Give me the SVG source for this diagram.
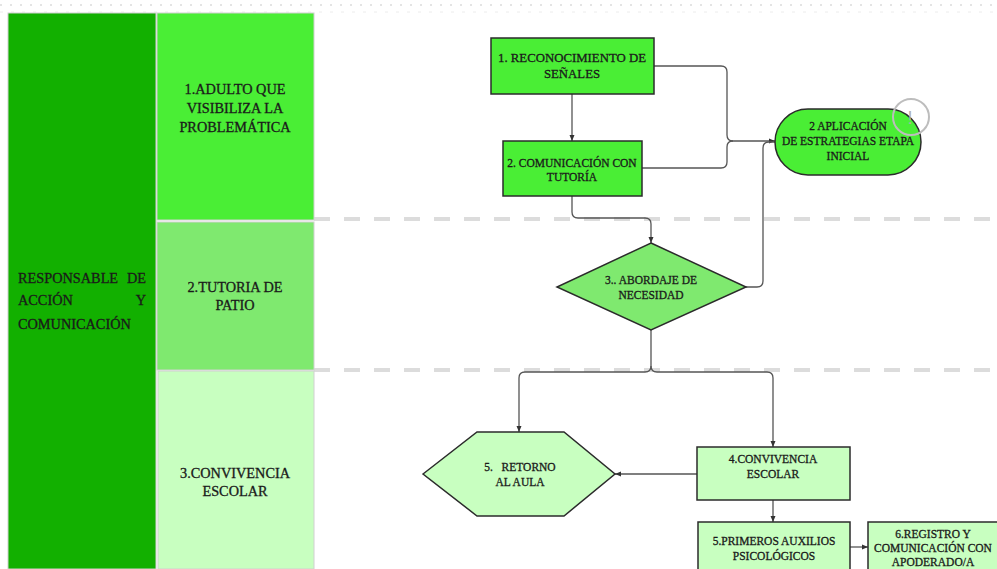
<svg xmlns="http://www.w3.org/2000/svg" width="997" height="569" viewBox="0 0 997 569">
<style>
text{font-family:"Liberation Serif","Times New Roman",serif;fill:#1a1a1a;stroke:#1a1a1a;stroke-width:0.3;text-anchor:middle}
.lane{font-size:14.3px}
.nt{font-size:11.5px}
.big{font-size:12.8px}
.node{stroke:#2b2b2b;stroke-width:1.5}
.c1{fill:#4aee35}
.c2{fill:#7fe96f}
.c3{fill:#c8ffc0}
.conn{fill:none;stroke:#555;stroke-width:1.3}
.sep{stroke:#dcdcdc;stroke-width:4;stroke-dasharray:16 14}
</style>
<defs>
<marker id="ah" viewBox="0 0 6 6" refX="6" refY="3" markerWidth="6" markerHeight="6" markerUnits="userSpaceOnUse" orient="auto">
<path d="M0,0.5 L6,3 L0,5.5 Z" fill="#333"/>
</marker>
</defs>
<rect width="997" height="569" fill="#fff"/>
<g id="grid">
<line x1="0" y1="5" x2="997" y2="5" stroke="#e4e4e4" stroke-width="2" stroke-dasharray="2 8"/>
<line x1="0" y1="12" x2="997" y2="12" stroke="#ececec" stroke-width="1" stroke-dasharray="3 8"/>
<line class="sep" x1="314" y1="219" x2="997" y2="219"/>
<line class="sep" x1="314" y1="370" x2="997" y2="370"/>
</g>
<g id="lane-responsable">
<rect x="8" y="13" width="148" height="556" fill="#12b000" stroke="#d0d0d0" stroke-width="1"/>
<text class="lane" x="18" y="283" style="text-anchor:start">RESPONSABLE</text>
<text class="lane" x="146" y="283" style="text-anchor:end">DE</text>
<text class="lane" x="18" y="305" style="text-anchor:start">ACCIÓN</text>
<text class="lane" x="146" y="305" style="text-anchor:end">Y</text>
<text class="lane" x="18" y="329" style="text-anchor:start">COMUNICACIÓN</text>
</g>
<g id="lane-adulto">
<rect x="157" y="13" width="157" height="207" class="c1" stroke="#d0d0d0" stroke-width="1"/>
<text class="lane" x="235" y="94">1.ADULTO QUE</text>
<text class="lane" x="235" y="113">VISIBILIZA LA</text>
<text class="lane" x="235" y="132">PROBLEMÁTICA</text>
</g>
<g id="lane-tutoria">
<rect x="157" y="222" width="157" height="148" class="c2" stroke="#d0d0d0" stroke-width="1"/>
<text class="lane" x="235" y="292">2.TUTORIA DE</text>
<text class="lane" x="235" y="310">PATIO</text>
</g>
<g id="lane-convivencia">
<rect x="158" y="371" width="156" height="198" class="c3" stroke="#d0d0d0" stroke-width="1"/>
<text class="lane" x="235" y="478">3.CONVIVENCIA</text>
<text class="lane" x="235" y="496">ESCOLAR</text>
</g>
<g id="connectors">
<path class="conn" d="M654,66 H721 Q727,66 727,72 V135 Q727,141 733,141 H775" marker-end="url(#ah)"/>
<path class="conn" d="M642,168 H721 Q727,168 727,162 V147 Q727,141 733,141"/>
<path class="conn" d="M572,94 V141" marker-end="url(#ah)"/>
<path class="conn" d="M572,196 V212 Q572,218 578,218 H645 Q651,218 651,224 V243" marker-end="url(#ah)"/>
<path class="conn" d="M746,287 H757 Q763,287 763,281 V148 Q763,142 769,142 H775"/>
<path class="conn" d="M651,330 V366 Q651,372 645,372 H525 Q519,372 519,378 V432" marker-end="url(#ah)"/>
<path class="conn" d="M651,366 Q651,372 657,372 H767 Q773,372 773,378 V447" marker-end="url(#ah)"/>
<path class="conn" d="M697,474 H615" marker-end="url(#ah)"/>
<path class="conn" d="M773,500 V522" marker-end="url(#ah)"/>
<path class="conn" d="M850,547 H868" marker-end="url(#ah)"/>
</g>
<g id="n1">
<rect class="node c1" x="491" y="38" width="163" height="56"/>
<text class="big" x="572" y="62">1. RECONOCIMIENTO DE</text>
<text class="big" x="572" y="78">SEÑALES</text>
</g>
<g id="n2">
<rect class="node c1" x="503" y="141" width="139" height="55"/>
<text class="nt" x="572" y="167">2. COMUNICACIÓN CON</text>
<text class="nt" x="572" y="181">TUTORÍA</text>
</g>
<g id="n-aplicacion">
<rect class="node c1" x="775" y="109" width="146" height="66" rx="33" ry="33"/>
<text class="nt" x="848" y="130">2 APLICACIÓN</text>
<text class="nt" x="848" y="145">DE ESTRATEGIAS ETAPA</text>
<text class="nt" x="848" y="160">INICIAL</text>
</g>
<g id="warn">
<circle cx="911" cy="117" r="18" fill="none" stroke="#bdbdbd" stroke-width="2"/>
<text x="910" y="124" style="font-size:18px;fill:#b0b0b0;stroke:none;font-family:'Liberation Sans',sans-serif">!</text>
</g>
<g id="n3">
<polygon class="node c2" points="651,243 746,287 651,330 557,287"/>
<text class="nt" x="651" y="284">3.. ABORDAJE DE</text>
<text class="nt" x="651" y="299">NECESIDAD</text>
</g>
<g id="n-retorno">
<polygon class="node c3" points="423,474 477,432 564,432 615,474 564,516 477,516"/>
<text class="nt" x="520" y="471" xml:space="preserve">5.   RETORNO</text>
<text class="nt" x="520" y="486">AL AULA</text>
</g>
<g id="n4">
<rect class="node c3" x="697" y="447" width="153" height="53"/>
<text class="nt" x="773" y="463">4.CONVIVENCIA</text>
<text class="nt" x="773" y="478">ESCOLAR</text>
</g>
<g id="n5">
<rect class="node c3" x="698" y="522" width="152" height="60"/>
<text class="nt" x="774" y="545">5.PRIMEROS AUXILIOS</text>
<text class="nt" x="774" y="560">PSICOLÓGICOS</text>
</g>
<g id="n6">
<rect class="node c3" x="868" y="522" width="150" height="60"/>
<text class="nt" x="933" y="538">6.REGISTRO Y</text>
<text class="nt" x="933" y="552">COMUNICACIÓN CON</text>
<text class="nt" x="933" y="566">APODERADO/A</text>
</g>
</svg>
